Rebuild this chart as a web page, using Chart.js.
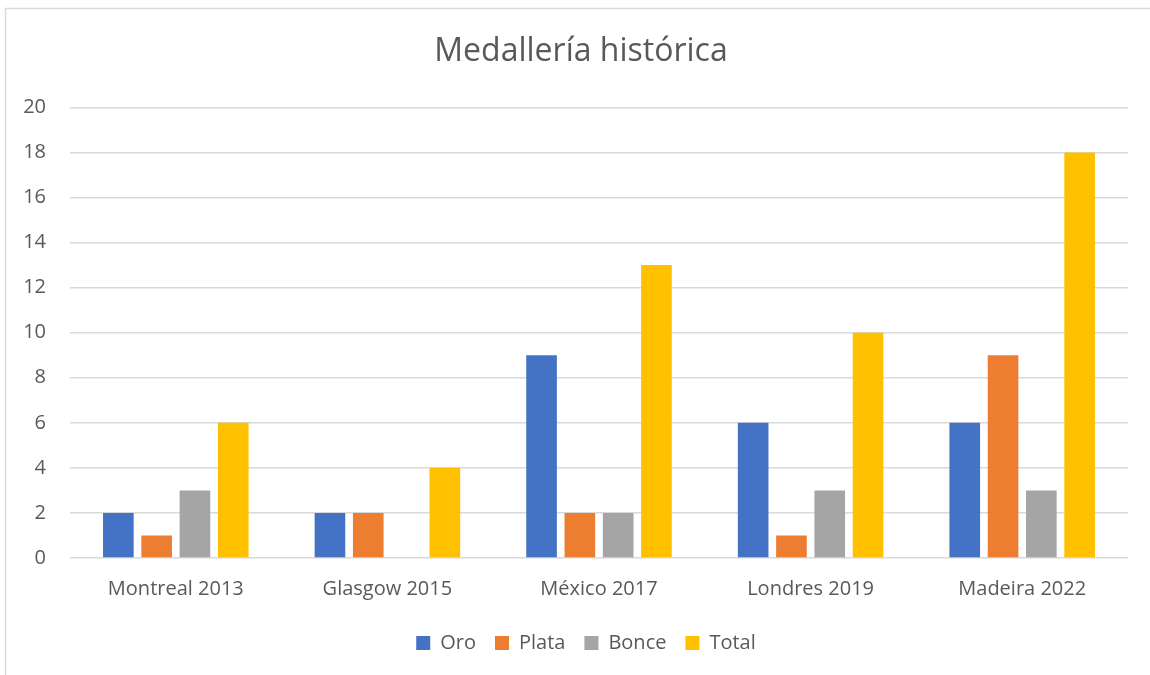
<!DOCTYPE html>
<html>
<head>
<meta charset="utf-8">
<script src="https://cdn.jsdelivr.net/npm/chart.js@4.4.1/dist/chart.umd.min.js"></script>
<style>
  html, body { margin: 0; padding: 0; background: #ffffff; }
  #wrap { width: 1150px; height: 675px; position: relative; }
</style>
</head>
<body>
<div id="wrap"><canvas id="c" width="1150" height="675"></canvas></div>
<script>
const categories = ["Montreal 2013", "Glasgow 2015", "México 2017", "Londres 2019", "Madeira 2022"];
const seriesNames = ["Oro", "Plata", "Bonce", "Total"];
const oro = [2, 2, 9, 6, 6];
const plata = [1, 2, 2, 1, 9];
const bonce = [3, 0, 2, 3, 3];
const total = [6, 4, 13, 10, 18];
const yTicks = [0, 2, 4, 6, 8, 10, 12, 14, 16, 18, 20];
const chartTitle = "Medallería histórica";

const colors = ["#4472C4", "#ED7D31", "#A5A5A5", "#FFC000"];
const values = [oro, plata, bonce, total];
const FONT = "'Open Sans', sans-serif";
const TEXT = "#595959";

const framePlugin = {
  id: 'frame',
  afterLayout(chart) {
    if (chart.legend) { chart.legend.left += 22; chart.legend.right += 22; }
    if (chart.titleBlock) { chart.titleBlock.left += 17; chart.titleBlock.right += 17; }
  },
  beforeDraw(chart) {
    const ctx = chart.ctx;
    ctx.save();
    ctx.fillStyle = '#ffffff';
    ctx.fillRect(0, 0, chart.width, chart.height);
    ctx.strokeStyle = '#d9d9d9';
    ctx.lineWidth = 1.5;
    ctx.strokeRect(5.5, 8.5, 1160, 700);
    ctx.restore();
  }
};

new Chart(document.getElementById('c'), {
  type: 'bar',
  data: {
    labels: categories,
    datasets: seriesNames.map((n, i) => ({
      label: n,
      data: values[i],
      backgroundColor: colors[i],
      borderWidth: 0,
      categoryPercentage: 0.724,
      barPercentage: 0.8
    }))
  },
  options: {
    responsive: false,
    animation: false,
    devicePixelRatio: 1,
    layout: { padding: { left: 0, right: 22, top: 0, bottom: 12 } },
    plugins: {
      title: {
        display: true,
        text: chartTitle,
        color: TEXT,
        font: { family: FONT, size: 32, weight: 'normal' },
        padding: { top: 33, bottom: 36 }
      },
      legend: {
        position: 'bottom',
        labels: {
          color: TEXT,
          font: { family: FONT, size: 20 },
          boxWidth: 14,
          boxHeight: 14,
          padding: 19
        }
      },
      tooltip: { enabled: false }
    },
    scales: {
      x: {
        grid: { display: false, drawTicks: false },
        border: { display: false },
        afterFit(scale) { scale.height = 56; },
        ticks: { color: TEXT, font: { family: FONT, size: 20 }, padding: 19 }
      },
      y: {
        min: 0,
        max: 20,
        afterBuildTicks(scale) { scale.ticks = yTicks.map(v => ({ value: v })); },
        afterFit(scale) { scale.width = 70; },
        grid: { color: '#d9d9d9', lineWidth: 1.5, drawTicks: false },
        border: { display: false },
        ticks: { color: TEXT, font: { family: FONT, size: 20 }, padding: 24 }
      }
    }
  },
  plugins: [framePlugin]
});
</script>
</body>
</html>
